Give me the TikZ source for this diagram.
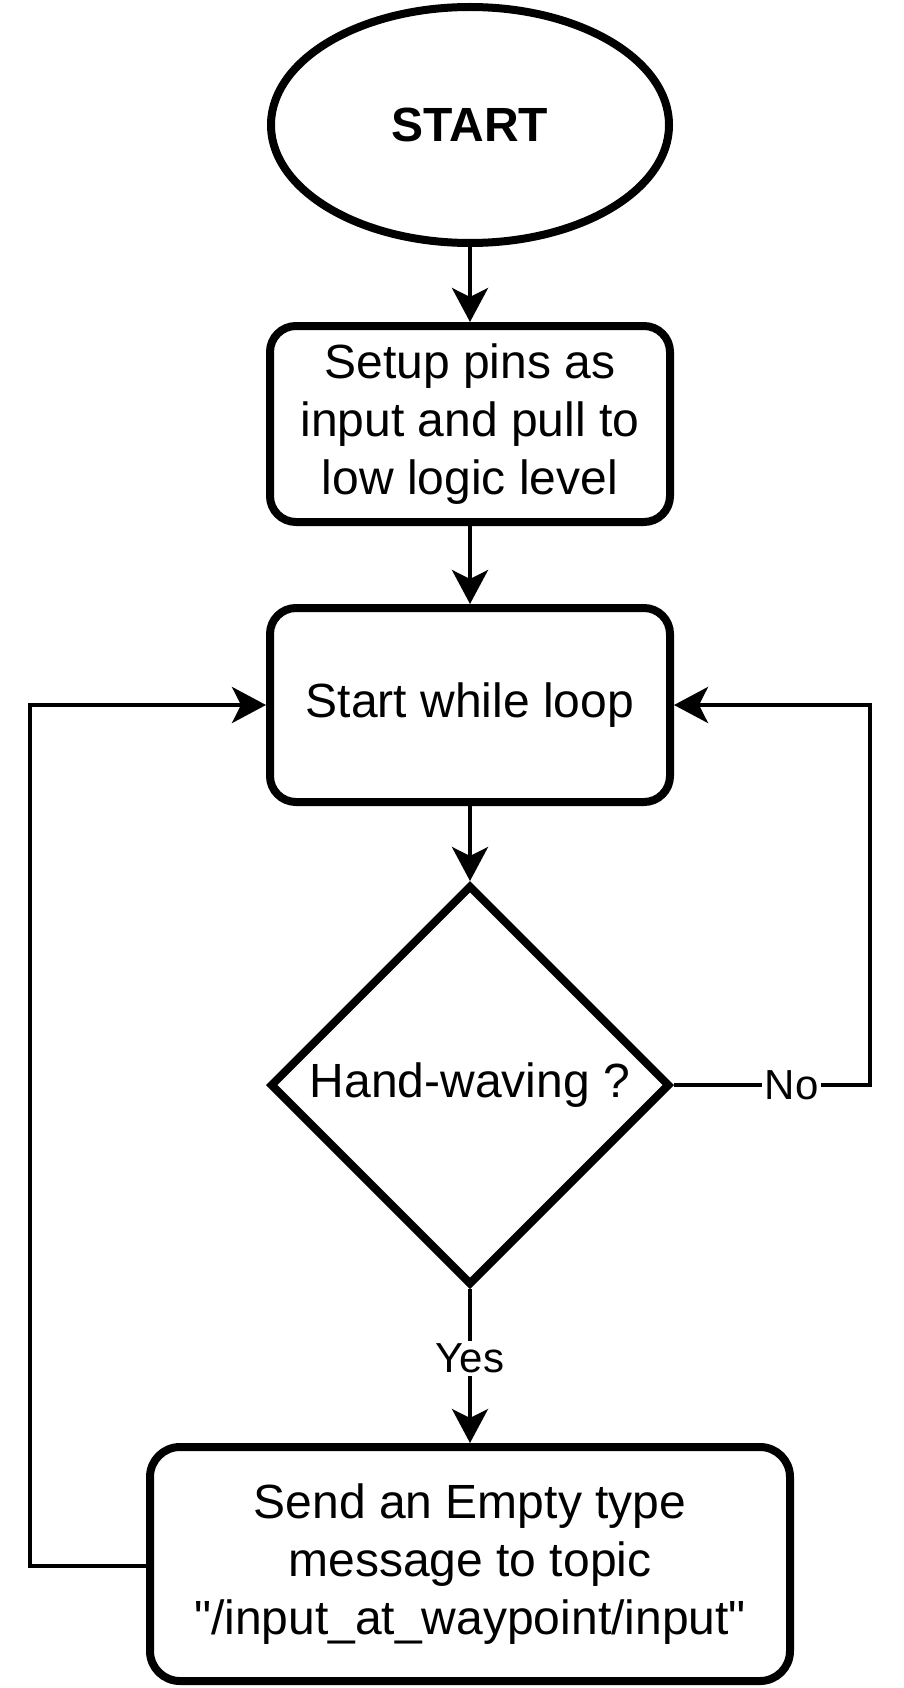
\documentclass[tikz,border=0pt]{standalone}
\usepackage{fontspec}
\setmainfont{Liberation Sans}
\usetikzlibrary{shapes.geometric,arrows.meta}

\tikzset{every picture/.style={line width=4pt}}
\tikzset{
  stepbox/.style={draw,line width=8pt,rounded corners=26pt,align=center,inner sep=0pt,font=\fontsize{48}{58}\selectfont},
  flow/.style={-{Stealth[length=34pt,width=36pt,inset=9pt]}},
  lbl/.style={fill=white,inner sep=3pt,font=\fontsize{42}{50}\selectfont}
}

\begin{document}
\begin{tikzpicture}[x=1pt,y=1pt,yscale=-1,xscale=1]
	\useasboundingbox (0,0) rectangle (904,1688);

	%Shape: Ellipse [start]
	\node[draw,ellipse,line width=8pt,minimum width=398,minimum height=236,inner sep=0pt,font=\fontsize{48}{58}\selectfont\bfseries] (start) at (470,125) {START};
	%Shape: Rounded Rectangle [setup]
	\node[stepbox,minimum width=400,minimum height=196] (setup) at (470,424) {Setup pins as\\input and pull to\\low logic level};
	%Shape: Rounded Rectangle [loop]
	\node[stepbox,minimum width=400,minimum height=194] (loop) at (470,705) {Start while loop};
	%Shape: Diamond [ask]
	\node[draw,diamond,line width=8pt,minimum width=400,minimum height=400,inner sep=0pt,font=\fontsize{48}{58}\selectfont] (ask) at (470,1085) {Hand-waving ?};
	%Shape: Rounded Rectangle [send]
	\node[stepbox,minimum width=640,minimum height=234,rounded corners=30pt] (send) at (470,1564) {Send an Empty type\\message to topic\\\textquotedbl/input\_at\_waypoint/input\textquotedbl};

	% turning points of the loops
	\coordinate (rturn) at (870,1085);
	\coordinate (lturn) at (30,1566);

	%Straight Lines
	\draw[flow] (start) -- (setup);
	\draw[flow] (setup) -- (loop);
	\draw[flow] (loop) -- (ask);
	\draw[flow] (ask) -- node[lbl,pos=0.45] {Yes} (send);
	\draw[flow] (ask.east) -- node[lbl,pos=0.6] {No} (rturn) |- (loop.east);
	\draw[flow] (send.west |- lturn) -- (lturn) |- (loop.west);

\end{tikzpicture}
\end{document}
